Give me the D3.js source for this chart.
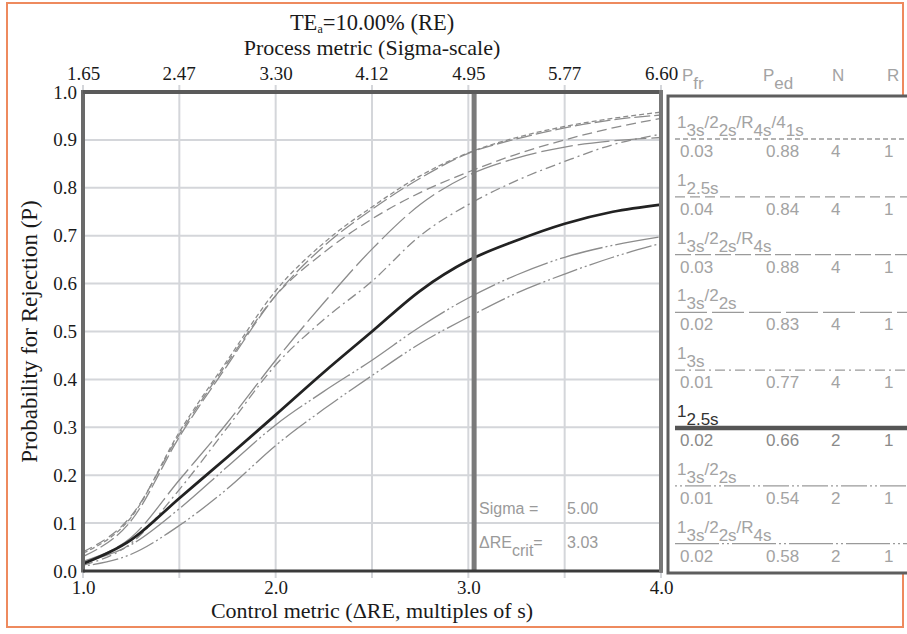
<!DOCTYPE html>
<html>
<head>
<meta charset="utf-8">
<script src="https://cdn.jsdelivr.net/npm/d3@7"></script>
<style>
  body { margin: 0; background: #fff; }
  svg { display: block; }
  .serif { font-family: "Liberation Serif", "Times New Roman", serif; fill: #1a1a1a; }
  .sans { font-family: "Liberation Sans", Arial, sans-serif; }
</style>
</head>
<body>
<svg id="chart" width="907" height="634"></svg>
<script>
// Systematic error grid (ΔRE, multiples of s)
const deltaRE = [1.0, 1.25, 1.5, 1.75, 2.0, 2.25, 2.5, 2.75, 3.0, 3.25, 3.5, 3.75, 4.0];

// Probability for rejection of each QC procedure along the grid
const pMulti4 = [0.037, 0.112, 0.29, 0.44, 0.585, 0.685, 0.76, 0.825, 0.873, 0.905, 0.928, 0.945, 0.958];   // 1_3s/2_2s/R_4s/4_1s, N=4
const p25N4 = [0.040, 0.115, 0.285, 0.435, 0.575, 0.665, 0.735, 0.79, 0.833, 0.87, 0.90, 0.925, 0.945];     // 1_2.5s, N=4
const pWestR4 = [0.030, 0.105, 0.28, 0.43, 0.575, 0.678, 0.755, 0.82, 0.872, 0.902, 0.925, 0.942, 0.952];   // 1_3s/2_2s/R_4s, N=4
const pWest4 = [0.020, 0.07, 0.19, 0.31, 0.44, 0.56, 0.672, 0.765, 0.826, 0.862, 0.885, 0.898, 0.905];      // 1_3s/2_2s, N=4
const p3sN4 = [0.012, 0.058, 0.17, 0.30, 0.43, 0.525, 0.605, 0.70, 0.765, 0.815, 0.855, 0.89, 0.912];       // 1_3s, N=4
const p25N2 = [0.015, 0.065, 0.152, 0.238, 0.326, 0.415, 0.50, 0.585, 0.648, 0.69, 0.725, 0.75, 0.765];     // 1_2.5s, N=2
const pWest2 = [0.010, 0.035, 0.095, 0.172, 0.262, 0.338, 0.408, 0.475, 0.53, 0.58, 0.62, 0.655, 0.684];    // 1_3s/2_2s, N=2
const pWestR2 = [0.018, 0.055, 0.13, 0.218, 0.305, 0.375, 0.44, 0.51, 0.57, 0.618, 0.655, 0.68, 0.698];     // 1_3s/2_2s/R_4s, N=2

// Legend table (same order as the series list below)
const ruleNames = ["1_3s/2_2s/R_4s/4_1s", "1_2.5s", "1_3s/2_2s/R_4s", "1_3s/2_2s", "1_3s", "1_2.5s", "1_3s/2_2s", "1_3s/2_2s/R_4s"];
const pfrValues = ["0.03", "0.04", "0.03", "0.02", "0.01", "0.02", "0.01", "0.02"];
const pedValues = ["0.88", "0.84", "0.88", "0.83", "0.77", "0.66", "0.54", "0.58"];
const nValues = ["4", "4", "4", "4", "4", "2", "2", "2"];
const rValues = ["1", "1", "1", "1", "1", "1", "1", "1"];

// Axis ticks
const xGridTicks = [1.0, 1.5, 2.0, 2.5, 3.0, 3.5, 4.0];
const xLabelTicks = [1.0, 2.0, 3.0, 4.0];
const sigmaTicks = ["1.65", "2.47", "3.30", "4.12", "4.95", "5.77", "6.60"];
const yTicks = [0.0, 0.1, 0.2, 0.3, 0.4, 0.5, 0.6, 0.7, 0.8, 0.9, 1.0];

// Operating point
const sigmaValue = "5.00";
const deltaCrit = 3.03;

const series = [pMulti4, p25N4, pWestR4, pWest4, p3sN4, p25N2, pWest2, pWestR2];
const dashes = ["5,3", "10,5", "16,4", "32,5", "10,4,2,4", null, "2,3,2,3,26,3", "44,3,2,3,2,3"];

const svg = d3.select("#chart");
const plot = { left: 83, right: 661, top: 92, bottom: 571 };

const x = d3.scaleLinear().domain([1, 4]).range([plot.left, plot.right]);
const y = d3.scaleLinear().domain([0, 1]).range([plot.bottom, plot.top]);
const xSigma = d3.scaleLinear().domain([1.65, 6.60]).range([plot.left, plot.right]);

// outer frame
svg.append("rect").attr("x", 7).attr("y", 3).attr("width", 896).attr("height", 624)
  .attr("fill", "none").attr("stroke", "#ee8a5e").attr("stroke-width", 2);

// grid lines
const grid = svg.append("g");
grid.selectAll(".vx").data(xGridTicks).join("line")
  .attr("x1", d => x(d)).attr("x2", d => x(d))
  .attr("y1", plot.top - 7).attr("y2", plot.bottom + 7)
  .attr("stroke", "#d4d6da").attr("stroke-width", 2);
grid.selectAll(".hy").data(yTicks).join("line")
  .attr("x1", plot.left).attr("x2", plot.right)
  .attr("y1", d => y(d)).attr("y2", d => y(d))
  .attr("stroke", "#d4d6da").attr("stroke-width", 2);

// curves
const line = d3.line().x((d, i) => x(deltaRE[i])).y(d => y(d)).curve(d3.curveMonotoneX);
const curves = svg.append("g");
series.forEach((s, k) => {
  if (k === 5) return;
  curves.append("path").attr("d", line(s)).attr("fill", "none")
    .attr("stroke", "#8c8c8c").attr("stroke-width", 1.3)
    .attr("stroke-dasharray", dashes[k]);
});
curves.append("path").attr("d", line(series[5])).attr("fill", "none")
  .attr("stroke", "#222").attr("stroke-width", 2.8);

// critical error line
svg.append("line").attr("x1", x(deltaCrit)).attr("x2", x(deltaCrit))
  .attr("y1", plot.top).attr("y2", plot.bottom)
  .attr("stroke", "#7a7a7a").attr("stroke-width", 5);

// plot border
svg.append("line").attr("x1", plot.left).attr("x2", plot.left).attr("y1", plot.top - 2).attr("y2", plot.bottom + 1.5)
  .attr("stroke", "#6a6a6a").attr("stroke-width", 4);
svg.append("line").attr("x1", plot.left).attr("x2", plot.right + 2).attr("y1", plot.top).attr("y2", plot.top)
  .attr("stroke", "#5a5a5a").attr("stroke-width", 4);
svg.append("line").attr("x1", plot.left).attr("x2", plot.right + 2).attr("y1", plot.bottom).attr("y2", plot.bottom)
  .attr("stroke", "#3a3a3a").attr("stroke-width", 3);
svg.append("line").attr("x1", plot.right).attr("x2", plot.right).attr("y1", plot.top - 2).attr("y2", plot.bottom + 1.5)
  .attr("stroke", "#777").attr("stroke-width", 4);

// axes labels via d3 axes
const axisB = svg.append("g").attr("transform", `translate(0,${plot.bottom})`)
  .call(d3.axisBottom(x).tickValues(xLabelTicks).tickFormat(d3.format(".1f")).tickSize(0).tickPadding(10));
const axisT = svg.append("g").attr("transform", `translate(0,${plot.top})`)
  .call(d3.axisTop(xSigma).tickValues(sigmaTicks.map(Number)).tickFormat((d, i) => sigmaTicks[i]).tickSize(0).tickPadding(12));
const axisL = svg.append("g").attr("transform", `translate(${plot.left},0)`)
  .call(d3.axisLeft(y).tickValues(yTicks).tickFormat(d3.format(".1f")).tickSize(0).tickPadding(6));
[axisB, axisT, axisL].forEach(a => {
  a.select(".domain").remove();
  a.selectAll("text").attr("class", "serif").style("font-size", "19px").attr("fill", "#1a1a1a");
});

// titles
const title = svg.append("text").attr("class", "serif").attr("x", (plot.left + plot.right) / 2).attr("y", 30)
  .attr("text-anchor", "middle").style("font-size", "22.5px");
title.append("tspan").text("TE");
title.append("tspan").text("a").style("font-size", "12px").attr("dy", 3);
title.append("tspan").text("=10.00% (RE)").attr("dy", -3);

svg.append("text").attr("class", "serif").attr("x", (plot.left + plot.right) / 2).attr("y", 55)
  .attr("text-anchor", "middle").style("font-size", "22px").text("Process metric (Sigma-scale)");

svg.append("text").attr("class", "serif").attr("x", (plot.left + plot.right) / 2).attr("y", 618)
  .attr("text-anchor", "middle").style("font-size", "22px").text("Control metric (ΔRE, multiples of s)");

svg.append("text").attr("class", "serif")
  .attr("transform", `translate(37,${(plot.top + plot.bottom) / 2}) rotate(-90)`)
  .attr("text-anchor", "middle").style("font-size", "23px").text("Probability for Rejection (P)");

// helper: text with "_" marking subscripted chunks
function richText(sel, str, shift) {
  const parts = str.split(/_([^\/=]+)/);
  let down = false;
  parts.forEach((p, i) => {
    if (!p) return;
    const sub = i % 2 === 1;
    const t = sel.append("tspan").text(p);
    if (sub && !down) { t.attr("dy", shift); down = true; }
    else if (!sub && down) { t.attr("dy", -shift); down = false; }
  });
}

// annotation inside the plot
const ax = x(deltaCrit) + 5;
const annFill = "#9a9a9a";
svg.append("text").attr("class", "sans").attr("x", ax).attr("y", 514).attr("fill", annFill)
  .style("font-size", "16px").text("Sigma =");
svg.append("text").attr("class", "sans").attr("x", ax + 88).attr("y", 514).attr("fill", annFill)
  .style("font-size", "16px").text(sigmaValue);
const critText = svg.append("text").attr("class", "sans").attr("x", ax).attr("y", 548).attr("fill", annFill)
  .style("font-size", "16px");
richText(critText, "ΔRE_crit=", 8);
svg.append("text").attr("class", "sans").attr("x", ax + 88).attr("y", 548).attr("fill", annFill)
  .style("font-size", "16px").text(d3.format(".2f")(deltaCrit));

// legend panel
const lg = { left: 668, top: 96, bottom: 573 };
svg.append("path")
  .attr("d", `M910,${lg.top} H${lg.left} V${lg.bottom} H910`)
  .attr("fill", "#fff").attr("stroke", "#5e5e5e").attr("stroke-width", 3);

const legendFill = "#a3a3a3";
const cols = { pfr: 680, ped: 766, n: 831, r: 884 };
const headers = [["P_fr", cols.pfr + 2], ["P_ed", cols.ped - 3], ["N", cols.n + 1], ["R", cols.r + 3]];
headers.forEach(([h, hx]) => {
  const t = svg.append("text").attr("class", "sans").attr("x", hx).attr("y", 81)
    .attr("fill", legendFill).style("font-size", "17px");
  richText(t, h, 8);
});

const row0 = 157, rowStep = 57.8;
ruleNames.forEach((name, i) => {
  const base = row0 + i * rowStep;
  const emph = i === 5;
  // line sample
  svg.append("line").attr("x1", 675).attr("x2", 907).attr("y1", base - 18).attr("y2", base - 18)
    .attr("stroke", emph ? "#555" : "#9a9a9a").attr("stroke-width", emph ? 4.5 : 1.3)
    .attr("stroke-dasharray", dashes[i]);
  // rule name
  const t = svg.append("text").attr("class", "sans").attr("x", 677).attr("y", base - 29)
    .attr("fill", emph ? "#333" : legendFill).style("font-size", "17px");
  richText(t, name, 8);
  // values row
  const vals = [[pfrValues[i], cols.pfr], [pedValues[i], cols.ped], [nValues[i], cols.n], [rValues[i], cols.r]];
  vals.forEach(([v, vx]) => {
    svg.append("text").attr("class", "sans").attr("x", vx).attr("y", base)
      .attr("fill", emph ? "#8a8a8a" : legendFill).style("font-size", "17px").text(v);
  });
});
</script>
</body>
</html>
